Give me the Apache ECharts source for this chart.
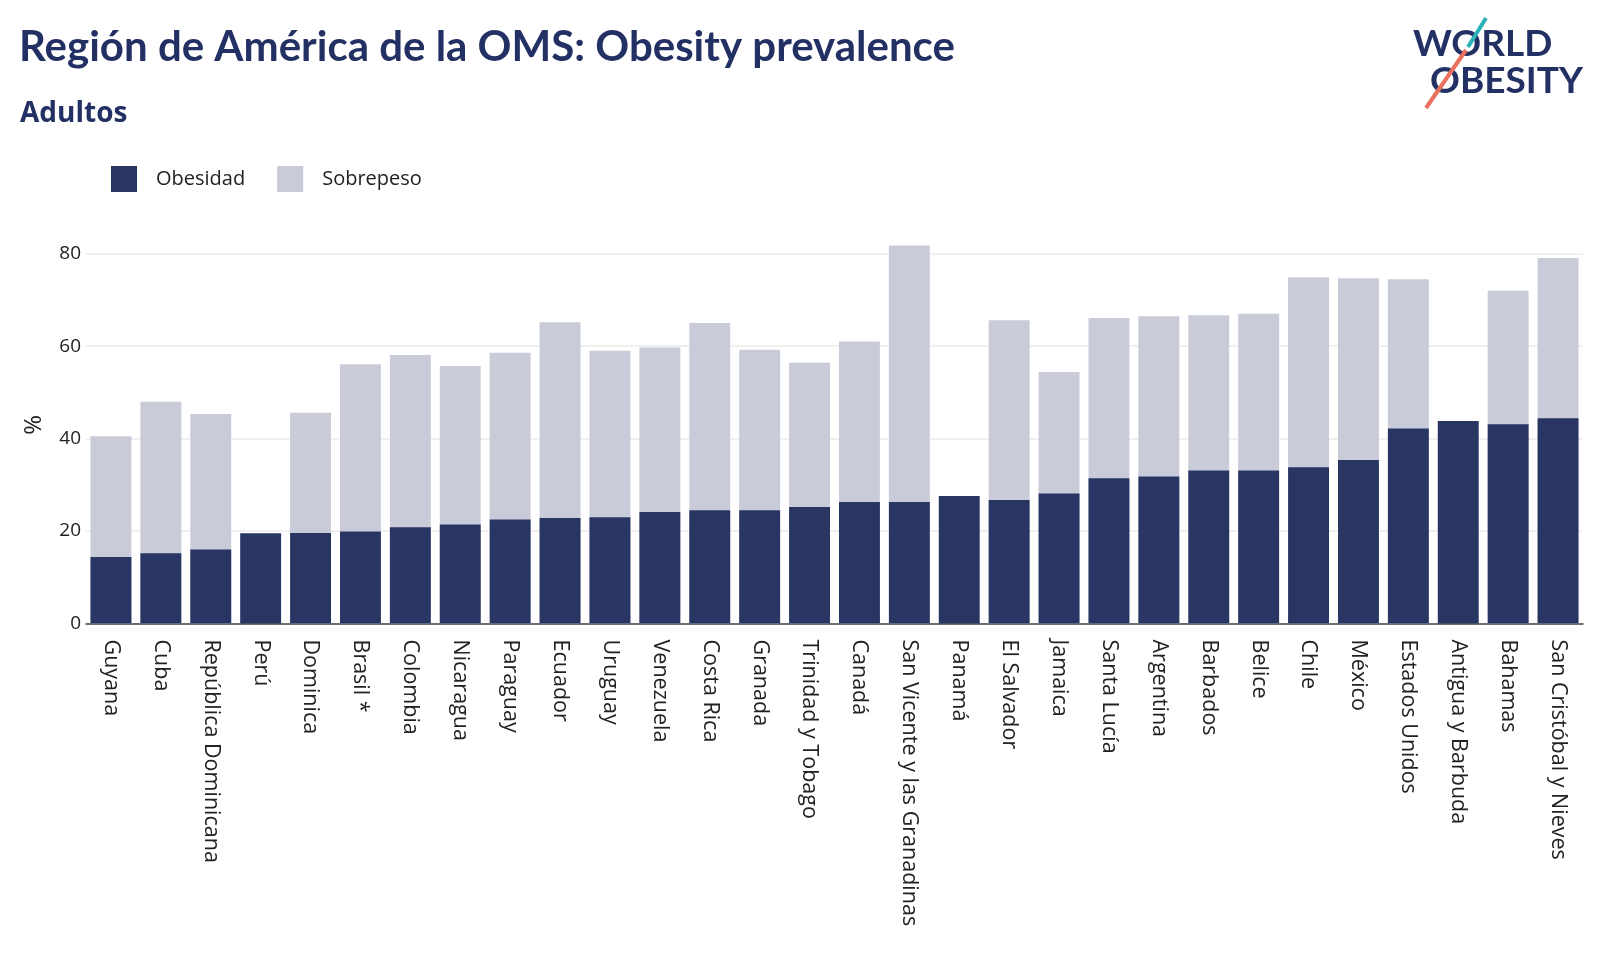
<!DOCTYPE html>
<html>
<head>
<meta charset="utf-8">
<script src="https://cdn.jsdelivr.net/npm/echarts@6/dist/echarts.min.js"></script>
<style>
html,body{margin:0;padding:0;background:#fff;}
#chart{width:1600px;height:956px;}
</style>
</head>
<body>
<div id="chart"></div>
<script>
const categories = ["Guyana","Cuba","República Dominicana","Perú","Dominica","Brasil *","Colombia","Nicaragua","Paraguay","Ecuador","Uruguay","Venezuela","Costa Rica","Granada","Trinidad y Tobago","Canadá","San Vicente y las Granadinas","Panamá","El Salvador","Jamaica","Santa Lucía","Argentina","Barbados","Belice","Chile","México","Estados Unidos","Antigua y Barbuda","Bahamas","San Cristóbal y Nieves"];
const obesidad = [14.4,15.2,16.0,19.5,19.6,19.9,20.8,21.4,22.5,22.8,23.0,24.1,24.5,24.5,25.2,26.3,26.3,27.6,26.7,28.1,31.4,31.8,33.1,33.1,33.8,35.4,42.2,43.8,43.1,44.4];
const sobrepeso = [40.5,48.0,45.3,null,45.6,56.1,58.1,55.7,58.6,65.2,59.0,59.7,65.0,59.2,56.4,61.0,81.8,null,65.6,54.4,66.1,66.5,66.7,67.0,74.9,74.7,74.5,null,72.0,79.1];
const yTicks = [0,20,40,60,80];

const FONT = 'Lato, "Noto Sans", sans-serif';
const BODY = '"Open Sans", "Noto Sans", sans-serif';
const chart = echarts.init(document.getElementById('chart'));
chart.setOption({
  backgroundColor: '#ffffff',
  animation: false,
  textStyle: { fontFamily: BODY },
  title: [
    { text: 'Región de América de la OMS: Obesity prevalence', left: 14, top: 21,
      textStyle: { fontFamily: FONT, fontSize: 42, fontWeight: 'bold', color: '#233063' } },
    { text: 'Adultos', left: 15, top: 95,
      textStyle: { fontFamily: BODY, fontSize: 28, fontWeight: 'bold', color: '#233063' } }
  ],
  legend: {
    data: ['Obesidad','Sobrepeso'],
    left: 106, top: 161, itemWidth: 26, itemHeight: 26, itemGap: 32,
    icon: 'rect',
    textStyle: { fontFamily: BODY, fontSize: 20, color: '#222', padding: [0,0,0,14] }
  },
  grid: { left: 86, right: 17, top: 226, bottom: 332.5, containLabel: false },
  xAxis: {
    type: 'category', data: categories,
    axisLine: { show: true, lineStyle: { color: '#444', width: 1.5 } },
    axisTick: { show: false },
    axisLabel: { rotate: -90, interval: 0, fontFamily: BODY, fontSize: 21.5, color: '#222', margin: 16 }
  },
  yAxis: {
    type: 'value', min: 0, max: 86, interval: 20,
    name: '%', nameLocation: 'middle', nameGap: 40, nameRotate: 90,
    nameTextStyle: { fontFamily: BODY, fontSize: 24, color: '#222' },
    axisLine: { show: false }, axisTick: { show: false },
    axisLabel: { fontFamily: BODY, fontSize: 19, color: '#222', margin: 5,
      formatter: v => (yTicks.indexOf(v) >= 0 ? String(v) : '') },
    splitLine: { show: true, lineStyle: { color: ['#ebebeb','#ebebeb','#ebebeb','#ebebeb','#ebebeb','rgba(0,0,0,0)'], width: 1.5 } }
  },
  series: [
    { name: 'Sobrepeso', type: 'bar', data: sobrepeso, barCategoryGap: '18%', barGap: '-100%',
      itemStyle: { color: '#c9ccd8' }, z: 2 },
    { name: 'Obesidad', type: 'bar', data: obesidad, barCategoryGap: '18%', barGap: '-100%',
      itemStyle: { color: '#293663' }, z: 3 }
  ],
  graphic: [
    { type: 'text', left: 1413, top: 26, style: { text: 'WORLD', font: 'bold 37px ' + FONT, fill: '#233063' } },
    { type: 'text', left: 1430, top: 63, style: { text: 'OBESITY', font: 'bold 37px ' + FONT, fill: '#233063' } },
    { type: 'line', shape: { x1: 1486, y1: 18, x2: 1468, y2: 47 }, style: { stroke: '#2bb3b8', lineWidth: 4 } },
    { type: 'line', shape: { x1: 1466, y1: 50, x2: 1426, y2: 108 }, style: { stroke: '#e8705d', lineWidth: 4 } }
  ]
});
</script>
</body>
</html>
